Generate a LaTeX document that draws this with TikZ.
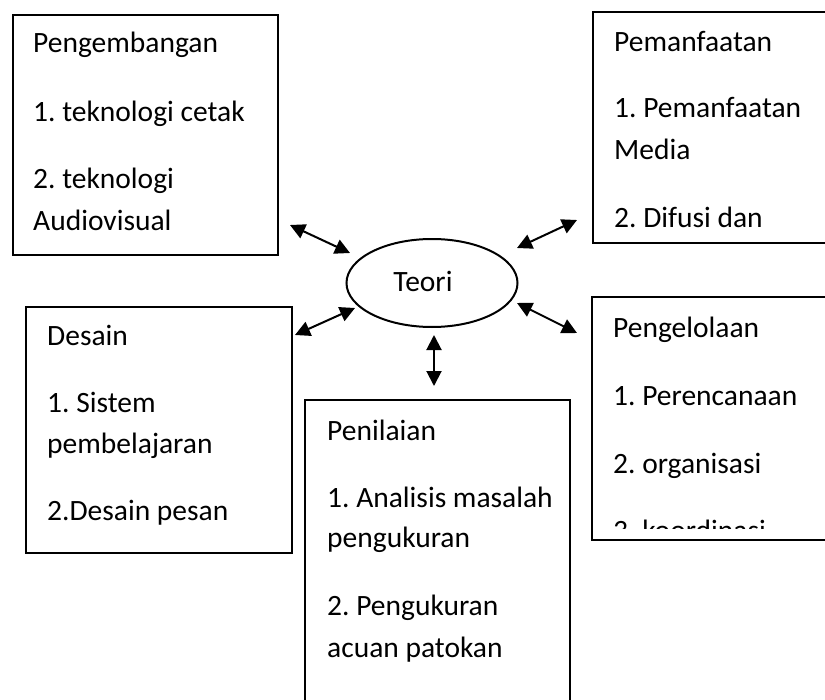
\documentclass[tikz,border=0pt]{standalone}
\usepackage{fontspec}
\setmainfont{Carlito}
\usetikzlibrary{arrows.meta,shapes.geometric}
\frenchspacing
\begin{document}
\begin{tikzpicture}[x=1bp,y=-1bp,
  box/.style={draw, line width=2.2bp, anchor=north west, inner sep=0pt},
  txt/.style={anchor=base west, inner sep=0pt, font=\fontsize{29.5bp}{35bp}\selectfont},
  link/.style={line width=2bp, {Triangle[length=15bp,width=15bp]}-{Triangle[length=15bp,width=15bp]}},
  oval/.style={draw, line width=2bp, ellipse, minimum width=171bp, minimum height=88bp, inner sep=0pt}]
\useasboundingbox (0,0) rectangle (825,700);
\fill[white] (0,0) rectangle (825,700);

% boxes
\node[box, minimum width=265bp, minimum height=240bp] (pengembangan) at (12,14) {};
\coordinate (pemanfaatan) at (593,12);
\draw[line width=2.2bp] (825,12) -- (593,12) -- (593,243) -- (825,243);
\node[box, minimum width=266bp, minimum height=246bp] (desain) at (25,306) {};
\coordinate (penilaian) at (305,400);
\draw[line width=2.2bp] (305,700) -- (305,400) -- (570,400) -- (570,700);
\coordinate (pengelolaan) at (592,297);
\draw[line width=2.2bp] (825,297) -- (592,297) -- (592,540) -- (825,540);

% ellipse
\node[oval] (teori) at (432,283) {};
\node[anchor=base, inner sep=0pt, font=\fontsize{29.5bp}{35bp}\selectfont] (teoritxt) at (423,291) {Teori};

% texts: Pengembangan
\node[txt] (t11) at (33,53) {Pengembangan};
\node[txt] (t12) at (33,122) {1. teknologi cetak};
\node[txt] (t13) at (33,188) {2. teknologi};
\node[txt] (t14) at (33,230) {Audiovisual};

% Pemanfaatan
\node[txt] (t21) at (614,52) {Pemanfaatan};
\node[txt] (t22) at (614,118) {1. Pemanfaatan};
\node[txt] (t23) at (614,160) {Media};
\node[txt] (t24) at (614,227) {2. Difusi dan};

% Desain
\node[txt] (t31) at (47,345) {Desain};
\node[txt] (t32) at (47,412) {1. Sistem};
\node[txt] (t33) at (47,453) {pembelajaran};
\node[txt] (t34) at (47,520) {2.Desain pesan};

% Penilaian
\node[txt] (t41) at (327,440) {Penilaian};
\node[txt] (t42) at (327,507) {1. Analisis masalah};
\node[txt] (t43) at (327,547) {pengukuran};
\node[txt] (t44) at (327,615) {2. Pengukuran};
\node[txt] (t45) at (327,657) {acuan patokan};

% Pengelolaan
\node[txt] (t51) at (613,337) {Pengelolaan};
\node[txt] (t52) at (613,405) {1. Perencanaan};
\node[txt] (t53) at (613,473) {2. organisasi};
\begin{scope}
\clip (592,297) rectangle (825,528);
\node[txt] (t54) at (613,540) {3. koordinasi};
\end{scope}

% arrow end points
\coordinate (a1s) at (290,225); \coordinate (a1e) at (350,253);
\coordinate (a2s) at (517,248); \coordinate (a2e) at (577,220);
\coordinate (a3s) at (295,335); \coordinate (a3e) at (355,308);
\coordinate (a4s) at (517,303); \coordinate (a4e) at (577,333);
\coordinate (a5s) at (434,335); \coordinate (a5e) at (434,386);

\draw[link] (a1s) -- (a1e);
\draw[link] (a2s) -- (a2e);
\draw[link] (a3s) -- (a3e);
\draw[link] (a4s) -- (a4e);
\draw[link] (a5s) -- (a5e);
\end{tikzpicture}
\end{document}
